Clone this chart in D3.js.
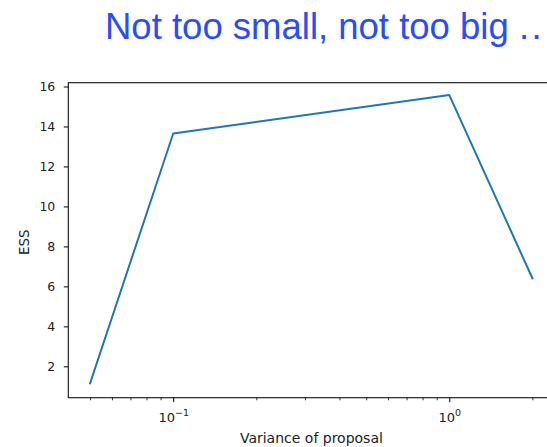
<!DOCTYPE html>
<html>
<head>
<meta charset="utf-8">
<script src="https://cdn.jsdelivr.net/npm/d3@7"></script>
<style>
  html, body { margin: 0; padding: 0; background: #fff; overflow: hidden; }
  svg { display: block; }
</style>
</head>
<body>
<svg id="chart" width="547" height="447"></svg>
<script>
// ---- data ----
const titleMain = "Not too small, not too big ";
const titleDots = "..";
const variances = [0.05, 0.1, 1, 2];
const essValues = [1.15, 13.65, 15.57, 6.4];
const yTickValues = [2, 4, 6, 8, 10, 12, 14, 16];
const xMajorTicks = [0.1, 1];
const xMajorLabels = [["10", "\u22121"], ["10", "0"]];
const xMinorTicks = [0.05, 0.06, 0.07, 0.08, 0.09, 0.2, 0.3, 0.4, 0.5, 0.6, 0.7, 0.8, 0.9, 2];
const xLabel = "Variance of proposal";
const yLabel = "ESS";

// ---- layout ----
const svg = d3.select("#chart");
const plotL = 68.3, plotR = 554.5, plotT = 82.7, plotB = 397.7;
const tickFont = "DejaVu Sans, sans-serif";

const x = d3.scaleLog().domain([Math.pow(10, -1.380), Math.pow(10, 0.381)]).range([plotL, plotR]);
const y = d3.scaleLinear().domain([0.43, 16.19]).range([plotB, plotT]);

// title
const title = svg.append("text")
  .attr("x", 105).attr("y", 39)
  .attr("font-family", "Liberation Sans, Arial, sans-serif")
  .attr("font-size", 36.5)
  .attr("fill", "#2b4cf6");
title.append("tspan").text(titleMain);
title.append("tspan").attr("letter-spacing", 2.5).text(titleDots);

// line
const line = d3.line().x((d, i) => x(variances[i])).y(d => y(d));
svg.append("path")
  .datum(essValues)
  .attr("d", line)
  .attr("fill", "none")
  .attr("stroke", "#1f77b4")
  .attr("stroke-width", 2)
  .attr("stroke-linejoin", "round")
  .attr("stroke-linecap", "square");

// spines
svg.append("rect")
  .attr("x", plotL).attr("y", plotT)
  .attr("width", plotR - plotL).attr("height", plotB - plotT)
  .attr("fill", "none").attr("stroke", "#111").attr("stroke-width", 1.1);

// y axis
const yAxis = d3.axisLeft(y).tickValues(yTickValues).tickSize(4.5).tickPadding(8.5).tickFormat(d3.format("d"));
const gy = svg.append("g").attr("transform", `translate(${plotL},0)`).call(yAxis);
gy.select(".domain").remove();
gy.selectAll(".tick line").attr("stroke", "#000").attr("stroke-width", 1);
gy.selectAll(".tick text").attr("font-family", tickFont).attr("font-size", 12.5).attr("fill", "#222");

// x major ticks
const xAxis = d3.axisBottom(x).tickValues(xMajorTicks).tickSize(4.5).tickFormat("");
const gx = svg.append("g").attr("transform", `translate(0,${plotB})`).call(xAxis);
gx.select(".domain").remove();
gx.selectAll(".tick line").attr("stroke", "#000").attr("stroke-width", 1);
gx.selectAll(".tick text").remove();
gx.selectAll(".tick").each(function(d, i) {
  const t = d3.select(this).append("text")
    .attr("y", 24.5)
    .attr("text-anchor", "middle")
    .attr("font-family", tickFont)
    .attr("font-size", 13)
    .attr("fill", "#222");
  t.append("tspan").text(xMajorLabels[i][0]);
  t.append("tspan").attr("dy", -6).attr("font-size", 9.5).text(xMajorLabels[i][1]);
});

// x minor ticks
const xMinor = d3.axisBottom(x).tickValues(xMinorTicks).tickSize(2.6).tickFormat("");
const gm = svg.append("g").attr("transform", `translate(0,${plotB})`).call(xMinor);
gm.select(".domain").remove();
gm.selectAll(".tick line").attr("stroke", "#000").attr("stroke-width", 0.8);

// axis labels
svg.append("text")
  .attr("x", (plotL + plotR) / 2).attr("y", 443)
  .attr("text-anchor", "middle")
  .attr("font-family", tickFont).attr("font-size", 14).attr("fill", "#222")
  .text(xLabel);

svg.append("text")
  .attr("transform", `translate(29,${(plotT + plotB) / 2 + 2}) rotate(-90)`)
  .attr("text-anchor", "middle")
  .attr("font-family", tickFont).attr("font-size", 13.5).attr("fill", "#222")
  .text(yLabel);
</script>
</body>
</html>
